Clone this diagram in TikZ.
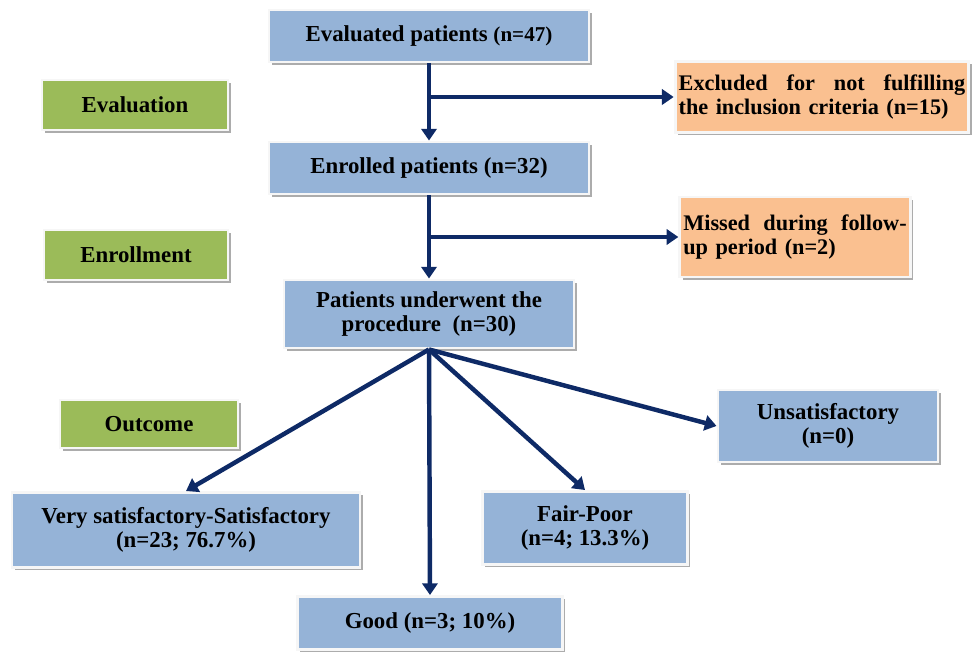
\documentclass[tikz,border=0pt]{standalone}
\usepackage{fontspec}
\setmainfont{Liberation Serif}
\usetikzlibrary{arrows.meta, positioning, shadows}
\definecolor{boxblue}{HTML}{95B3D7}
\definecolor{boxgreen}{HTML}{9BBB59}
\definecolor{boxorange}{HTML}{FAC090}
\definecolor{arrownavy}{HTML}{0E2A66}

\begin{document}
\begin{tikzpicture}[
      x=0.03cm, y=-0.03cm,
      >={Triangle[length=10pt,width=13pt]},
      box/.style={draw=white!93!gray, line width=2.5pt, inner sep=4pt,
        font=\fontsize{19.5}{21}\selectfont\bfseries, align=center,
        drop shadow={shadow xshift=2.5pt, shadow yshift=-2.5pt, fill=gray!65, opacity=1}},
      stage/.style={box, fill=boxblue},
      phase/.style={box, fill=boxgreen},
      drop/.style={box, fill=boxorange, align=left, inner sep=3pt,
        font=\fontsize{19}{21}\selectfont\bfseries},
      flow/.style={->, draw=arrownavy, line width=3.8pt},
      ]
      \useasboundingbox (0,0) rectangle (976,652);

      % main column
      \node[stage, minimum width=9.6cm, minimum height=1.56cm]   (evaluated) at (429,36)
        {Evaluated patients {\fontsize{18}{20}\selectfont(n=47)}};
      \node[stage, minimum width=9.6cm, minimum height=1.56cm]   (enrolled)  at (429,168)
        {Enrolled patients (n=32)};
      \node[stage, minimum width=8.7cm, minimum height=2.04cm]   (procedure) at (429,314)
        {Patients underwent the\\procedure\ \ (n=30)};

      % phases
      \node[phase, minimum width=5.58cm, minimum height=1.5cm]   (evaluation) at (135,105) {Evaluation};
      \node[phase, minimum width=5.52cm, minimum height=1.5cm]   (enrollment) at (136,255) {Enrollment};
      \node[phase, minimum width=5.34cm, minimum height=1.44cm]  (outcome)    at (149,424) {Outcome};

      % dropped out
      \node[drop, text width=8.6cm, minimum height=2.13cm]       (excluded) at (822,97)
        {Excluded\hfill for\hfill not\hfill fulfilling\\the inclusion criteria (n=15)};
      \node[drop, text width=6.7cm, minimum height=2.4cm]        (missed)   at (795,237)
        {Missed\hfill during\hfill follow-\\up period (n=2)};

      % results
      \node[stage, minimum width=10.44cm, minimum height=2.25cm] (verysat) at (186,530)
        {Very satisfactory-Satisfactory\\(n=23; 76.7\%)};
      \node[stage, minimum width=7.95cm, minimum height=1.59cm]  (good)    at (430,623)
        {Good (n=3; 10\%)};
      \node[stage, minimum width=6.15cm, minimum height=2.19cm]  (fair)    at (585,528)
        {Fair-Poor\\(n=4; 13.3\%)};
      \node[stage, minimum width=6.6cm, minimum height=2.16cm]   (unsat)   at (828,426)
        {Unsatisfactory\\(n=0)};

      \coordinate (split1) at (evaluated.south |- excluded.west);
      \coordinate (split2) at (enrolled.south |- missed.west);

      \draw[flow] (evaluated.south) -- (enrolled.north);
      \draw[flow] (split1) -- (excluded.west);
      \draw[flow] (enrolled.south) -- (procedure.north);
      \draw[flow] (split2) -- (missed.west);
      \draw[flow] (procedure.south) -- (verysat.north);
      \draw[flow] (procedure.south) -- (good.north);
      \draw[flow] (procedure.south) -- (fair.north);
      \draw[flow] (procedure.south) -- (unsat.west);
    \end{tikzpicture}
\end{document}
